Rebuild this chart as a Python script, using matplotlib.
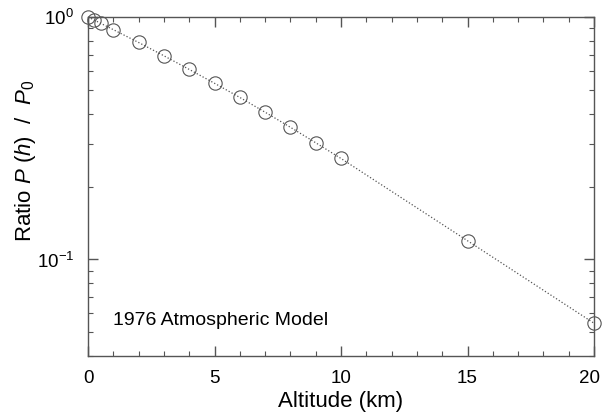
import matplotlib
matplotlib.use("Agg")
import matplotlib.pyplot as plt
import matplotlib.transforms as mtransforms
from matplotlib.ticker import MultipleLocator, LogLocator, NullFormatter

altitude_km = [0, 0.25, 0.5, 1, 2, 3, 4, 5, 6, 7, 8, 9, 10, 15, 20]
pressure_ratio = [1.0, 0.971, 0.942, 0.887, 0.785, 0.692, 0.608, 0.533,
                  0.466, 0.405, 0.351, 0.303, 0.261, 0.1195, 0.0546]
x_ticks = [0, 5, 10, 15, 20]

plt.rcParams['font.family'] = ['Liberation Sans', 'DejaVu Sans']
plt.rcParams['mathtext.fontset'] = 'custom'
plt.rcParams['mathtext.rm'] = 'Liberation Sans'
plt.rcParams['mathtext.it'] = 'Liberation Sans:italic'

fig = plt.figure(figsize=(6.02, 4.17), dpi=100)
ax = fig.add_axes([88/602, 61/417, 506/602, 339/417])

gray = '#555555'
ax.plot(altitude_km, pressure_ratio, linestyle=':', color=gray, linewidth=0.9,
        marker='o', markersize=9.6, markerfacecolor='none',
        markeredgecolor=gray, markeredgewidth=0.8, clip_on=False)

ax.set_yscale('log')
ax.set_xlim(0, 20)
ax.set_ylim(0.04, 1.0)
ax.set_xticks(x_ticks)
ax.xaxis.set_minor_locator(MultipleLocator(1))
ax.yaxis.set_major_locator(LogLocator(base=10))
ax.yaxis.set_minor_locator(LogLocator(base=10, subs=range(2, 10)))
ax.yaxis.set_minor_formatter(NullFormatter())

for s in ax.spines.values():
    s.set_color(gray)
    s.set_linewidth(1.0)

ax.tick_params(which='both', direction='in', top=True, right=True, color=gray)
ax.tick_params(which='major', length=7, width=1.0, labelsize=13.5, pad=10)
ax.tick_params(which='minor', length=3.5, width=0.8)

# nudge the last x tick label so it stays inside the figure
last_lbl = ax.get_xticklabels()[-1]
last_lbl.set_transform(last_lbl.get_transform() +
                       mtransforms.ScaledTranslation(-4/100, 0, fig.dpi_scale_trans))

ax.set_xlabel('Altitude (km)', fontsize=16, labelpad=3)
fig.text(26/602, 1 - 161/417,
         r'Ratio $\mathit{P}$ ($\mathit{h}$)  /  $\mathit{P}_{\mathit{0}}$',
         rotation=90, fontsize=16, ha='center', va='center')

ax.text(1.0, 0.056, '1976 Atmospheric Model', fontsize=14, va='center', ha='left')

fig.savefig('out.png', dpi=100)
